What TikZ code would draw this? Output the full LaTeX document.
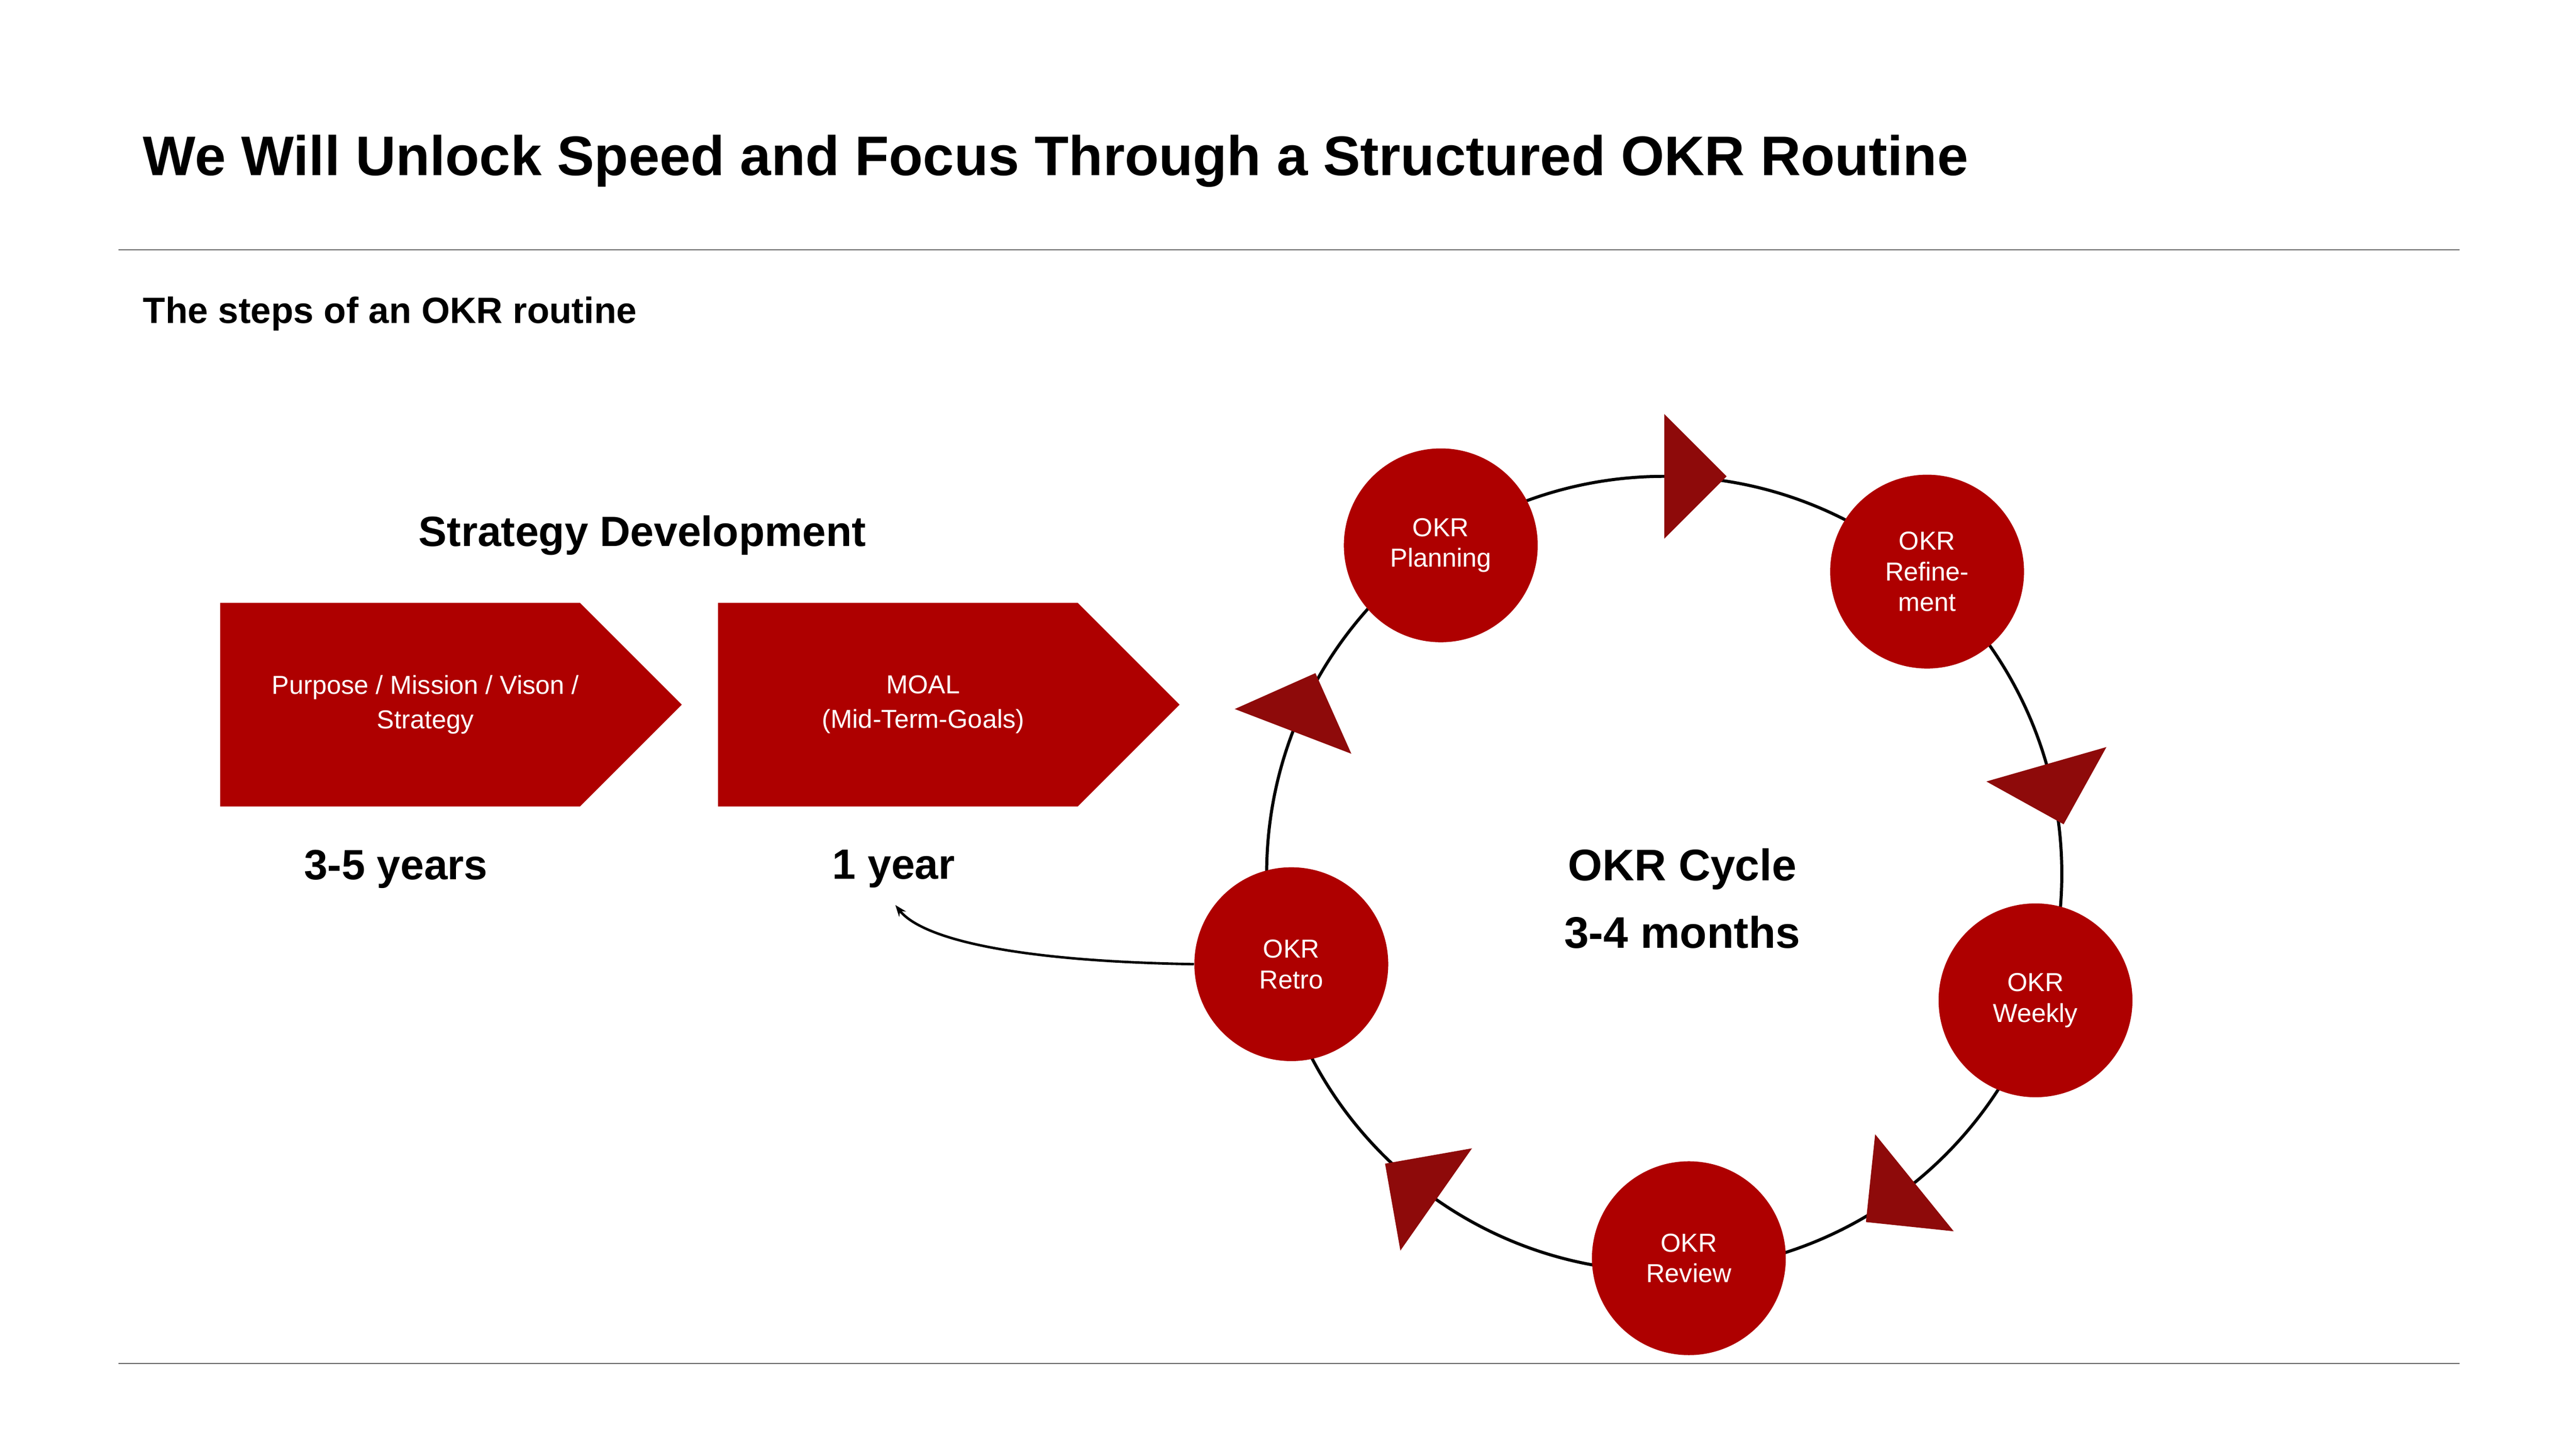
\documentclass[tikz,border=0pt]{standalone}
\usepackage{fontspec}
\setmainfont{Liberation Sans}
\usetikzlibrary{calc,arrows.meta}
\definecolor{okrred}{HTML}{AE0000}
\definecolor{okrdark}{HTML}{8E0A0A}
\begin{document}
\begin{tikzpicture}[x=0.03cm,y=0.03cm,
  stepcirc/.style={circle,fill=okrred,minimum size=3.54cm,inner sep=0pt,text=white,align=center,font=\fontsize{13.5}{16}\selectfont},
  chev/.style={fill=okrred},
  chevtext/.style={text=white,align=center,font=\fontsize{13.5}{18}\selectfont},
  big/.style={font=\bfseries\fontsize{22}{26}\selectfont,align=center},
  tri/.style={fill=okrdark},
  rule/.style={draw=gray!80!black,line width=0.6pt}]
\useasboundingbox (0,0) rectangle (1568,882);
% title
\node[anchor=west,font=\bfseries\fontsize{29}{34}\selectfont] (title) at (83,784) {We Will Unlock Speed and Focus Through a Structured OKR Routine};
\draw[rule] (72,730) -- (1497,730);
\draw[rule] (72,52) -- (1497,52);
\node[anchor=west,font=\bfseries\fontsize{19}{22}\selectfont] (sub) at (83,691) {The steps of an OKR routine};
\node[big] (sd) at (391,556) {Strategy Development};
% chevrons
\fill[chev] (134,515) -- (353,515) -- (415,453) -- (353,391) -- (134,391) -- cycle;
\node[chevtext] (c1) at (259,453) {Purpose / Mission / Vison /\\Strategy};
\fill[chev] (437,515) -- (656,515) -- (718,453) -- (656,391) -- (437,391) -- cycle;
\node[chevtext] (c2) at (562,453) {MOAL\\(Mid-Term-Goals)};
\node[big] (y35) at (241,353) {3-5 years};
\node[big] (y1) at (544,353) {1 year};
% cycle
\coordinate (cc) at (1013,350);
\draw[line width=1.6pt] (cc) circle (242);
\foreach \a in {90,16,-51,-125,159}{
  \begin{scope}[shift={($(cc)+(\a:242)$)},rotate=\a-90]
    \fill[tri] (0,38) -- (38,0) -- (0,-38) -- cycle;
  \end{scope}
}
\node[big,font=\bfseries\fontsize{23}{35}\selectfont] (center) at (1024,335) {OKR Cycle\\3-4 months};
\node[stepcirc] (plan) at (877,550) {OKR\\Planning};
\node[stepcirc] (ref) at (1173,534) {OKR\\Refine-\\ment};
\node[stepcirc] (week) at (1239,273) {OKR\\Weekly};
\node[stepcirc] (rev) at (1028,116) {OKR\\Review};
\node[stepcirc] (retro) at (786,295) {OKR\\Retro};
\coordinate (yend) at (545,331);
\draw[line width=1.3pt,-{Stealth[length=6pt]}] (retro.west) .. controls (610,297) and (560,312) .. (yend);
\end{tikzpicture}
\end{document}
